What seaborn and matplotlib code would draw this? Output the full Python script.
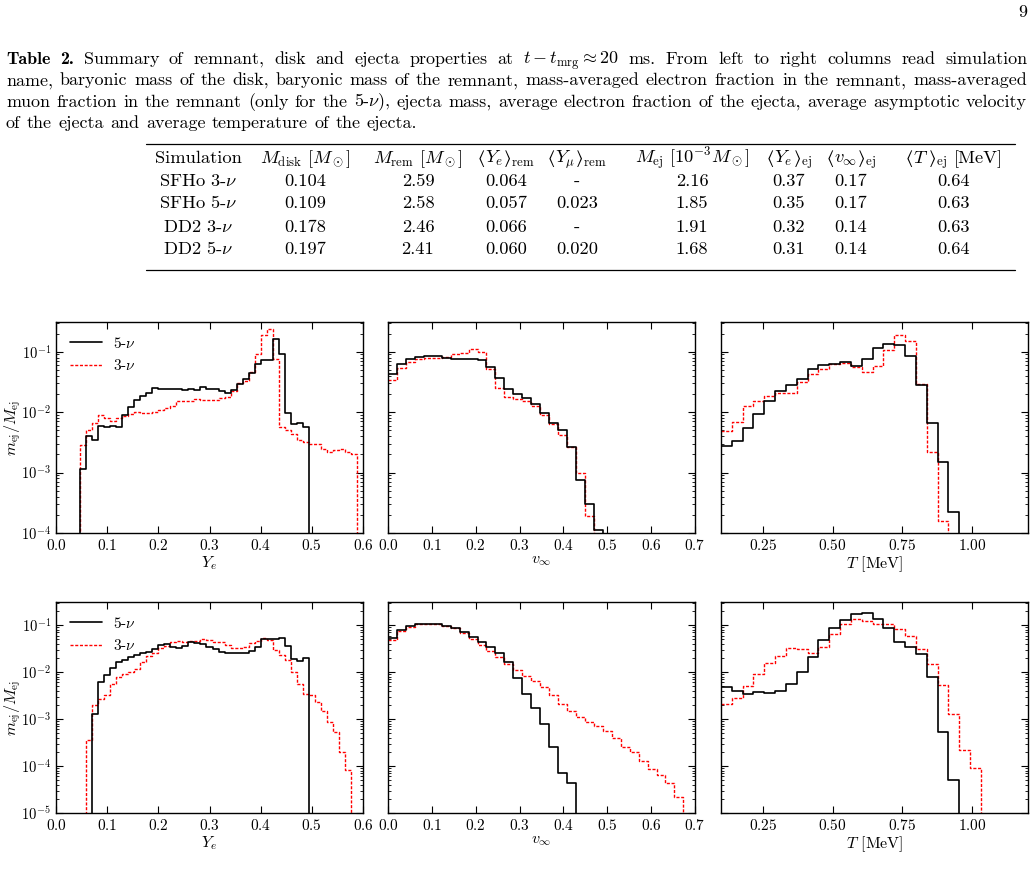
import numpy as np
import pandas as pd
import matplotlib
matplotlib.use("Agg")
import matplotlib.pyplot as plt
import seaborn as sns
from matplotlib.lines import Line2D
from matplotlib.ticker import LogLocator, NullFormatter, FixedLocator

# ---------------------------------------------------------------- data
ye_edges = np.linspace(0.0, 0.6, 52)          # 51 bins in Y_e
vinf_edges = np.arange(36) / 49.0             # 35 bins in v_inf
temp_edges = 0.1 + 0.0388 * np.arange(29)     # 28 bins in T [MeV]

sfho_ye_5nu = [0, 0, 0, 0, 1.15e-3, 4.0e-3, 3.5e-3, 6.0e-3, 5.6e-3, 5.9e-3,
               5.6e-3, 9.0e-3, 1.23e-2, 1.6e-2, 1.85e-2, 2.1e-2, 2.5e-2, 2.4e-2, 2.45e-2, 2.45e-2,
               2.4e-2, 2.3e-2, 2.4e-2, 2.35e-2, 2.6e-2, 2.4e-2, 2.45e-2, 2.2e-2, 2.1e-2, 2.35e-2,
               2.9e-2, 3.5e-2, 4.4e-2, 6.2e-2, 7.2e-2, 7.2e-2, 1.6e-1, 9.0e-2, 9.6e-3, 6.4e-3,
               6.5e-3, 5.6e-3, 0, 0, 0, 0, 0, 0, 0, 0, 0]
sfho_ye_3nu = [0, 0, 0, 0, 2.9e-3, 5.0e-3, 6.6e-3, 9.0e-3, 8.1e-3, 7.0e-3,
               7.9e-3, 8.5e-3, 9.2e-3, 1.0e-2, 9.8e-3, 9.6e-3, 1.0e-2, 1.1e-2, 1.15e-2, 1.28e-2,
               1.55e-2, 1.5e-2, 1.5e-2, 1.65e-2, 1.6e-2, 1.6e-2, 1.6e-2, 1.7e-2, 1.8e-2, 2.2e-2,
               3.0e-2, 3.3e-2, 4.7e-2, 9.0e-2, 1.9e-1, 2.4e-1, 7.5e-2, 5.6e-3, 5.1e-3, 4.3e-3,
               3.4e-3, 3.2e-3, 3.0e-3, 3.0e-3, 2.5e-3, 2.2e-3, 2.4e-3, 2.45e-3, 2.2e-3, 2.0e-3, 0]
dd2_ye_5nu = [0, 0, 0, 0, 0, 0, 1.3e-3, 6.0e-3, 8.6e-3, 1.2e-2,
              1.6e-2, 1.8e-2, 2.1e-2, 2.3e-2, 2.5e-2, 2.7e-2, 3.1e-2, 3.7e-2, 4.0e-2, 3.5e-2,
              3.2e-2, 3.6e-2, 4.3e-2, 4.1e-2, 3.9e-2, 3.5e-2, 3.1e-2, 2.7e-2, 2.6e-2, 2.6e-2,
              2.5e-2, 2.5e-2, 2.8e-2, 3.5e-2, 5.0e-2, 5.0e-2, 5.0e-2, 5.4e-2, 3.6e-2, 1.9e-2,
              1.75e-2, 2.0e-2, 0, 0, 0, 0, 0, 0, 0, 0, 0]
dd2_ye_3nu = [0, 0, 0, 0, 0, 3.5e-4, 2.0e-3, 2.7e-3, 3.2e-3, 5.5e-3,
              7.9e-3, 9.0e-3, 1.0e-2, 1.15e-2, 1.65e-2, 2.2e-2, 2.6e-2, 3.2e-2, 3.6e-2, 4.4e-2,
              4.6e-2, 4.4e-2, 4.5e-2, 4.5e-2, 5.0e-2, 4.8e-2, 4.4e-2, 4.3e-2, 3.8e-2, 3.2e-2,
              3.2e-2, 3.5e-2, 4.1e-2, 4.6e-2, 5.2e-2, 4.8e-2, 2.9e-2, 2.3e-2, 1.8e-2, 1.0e-2,
              5.7e-3, 3.4e-3, 3.3e-3, 2.3e-3, 1.5e-3, 8.7e-4, 5.3e-4, 2.0e-4, 8.3e-5, 0, 0]

sfho_v_5nu = [4.2e-2, 6.2e-2, 7.5e-2, 8.1e-2, 8.4e-2, 8.6e-2, 8.0e-2, 7.6e-2, 7.6e-2, 7.6e-2,
              7.4e-2, 5.6e-2, 3.7e-2, 2.45e-2, 2.0e-2, 1.7e-2, 1.38e-2, 9.5e-3, 6.7e-3, 5.1e-3,
              2.6e-3, 7.4e-4, 3.0e-4, 1.1e-4, 0, 0, 0, 0, 0, 0, 0, 0, 0, 0, 0]
sfho_v_3nu = [3.4e-2, 5.3e-2, 6.7e-2, 7.5e-2, 7.8e-2, 8.0e-2, 8.3e-2, 9.0e-2, 9.4e-2, 1.1e-1,
              1.0e-1, 5.1e-2, 2.5e-2, 1.8e-2, 1.65e-2, 1.55e-2, 1.24e-2, 9.0e-3, 6.4e-3, 4.2e-3,
              2.6e-3, 9.8e-4, 1.9e-4, 0, 0, 0, 0, 0, 0, 0, 0, 0, 0, 0, 0]
dd2_v_5nu = [5.2e-2, 8.0e-2, 9.4e-2, 1.03e-1, 1.05e-1, 1.05e-1, 9.7e-2, 8.8e-2, 7.2e-2, 5.6e-2,
             4.4e-2, 3.35e-2, 2.5e-2, 1.66e-2, 7.6e-3, 3.4e-3, 1.7e-3, 7.9e-4, 2.5e-4, 7.2e-5,
             4.4e-5, 0, 0, 0, 0, 0, 0, 0, 0, 0, 0, 0, 0, 0, 0]
dd2_v_3nu = [4.8e-2, 7.6e-2, 8.9e-2, 1.03e-1, 1.05e-1, 1.05e-1, 9.7e-2, 8.8e-2, 6.9e-2, 5.0e-2,
             3.75e-2, 2.84e-2, 2.05e-2, 1.48e-2, 1.08e-2, 8.4e-3, 6.4e-3, 4.7e-3, 3.2e-3, 2.1e-3,
             1.5e-3, 1.13e-3, 8.8e-4, 7.2e-4, 5.5e-4, 3.9e-4, 2.5e-4, 1.95e-4, 1.28e-4, 8.7e-5,
             6.5e-5, 4.3e-5, 2.2e-5, 0, 0]

sfho_t_5nu = [2.8e-3, 3.3e-3, 5.4e-3, 9.2e-3, 1.53e-2, 2.2e-2, 2.8e-2, 3.5e-2, 5.2e-2, 6.0e-2,
              6.3e-2, 6.7e-2, 5.9e-2, 7.5e-2, 1.13e-1, 1.35e-1, 1.3e-1, 8.4e-2, 2.8e-2, 6.7e-3,
              1.5e-3, 2.2e-4, 0, 0, 0, 0, 0, 0]
sfho_t_3nu = [4.8e-3, 6.8e-3, 1.24e-2, 1.5e-2, 1.88e-2, 2.1e-2, 2.1e-2, 3.2e-2, 4.2e-2, 5.2e-2,
              6.3e-2, 6.4e-2, 5.5e-2, 4.6e-2, 5.7e-2, 1.08e-1, 1.9e-1, 1.5e-1, 2.9e-2, 2.2e-3,
              1.55e-4, 0, 0, 0, 0, 0, 0, 0]
dd2_t_5nu = [4.7e-3, 4.0e-3, 3.4e-3, 3.7e-3, 3.6e-3, 4.0e-3, 5.5e-3, 1.0e-2, 2.1e-2, 4.7e-2,
             8.5e-2, 1.28e-1, 1.7e-1, 1.77e-1, 1.32e-1, 8.5e-2, 4.4e-2, 3.5e-2, 2.4e-2, 8.0e-3,
             5.4e-4, 5.0e-5, 0, 0, 0, 0, 0, 0]
dd2_t_3nu = [2.1e-3, 2.75e-3, 5.1e-3, 9.2e-3, 1.58e-2, 2.2e-2, 3.2e-2, 3.1e-2, 2.6e-2, 3.5e-2,
             6.4e-2, 1.08e-1, 1.34e-1, 1.2e-1, 1.08e-1, 1.03e-1, 8.1e-2, 5.9e-2, 3.1e-2, 1.5e-2,
             5.3e-3, 1.3e-3, 2.2e-4, 9.3e-5, 0, 0, 0, 0]

labels_nu = ["5-$\\nu$", "3-$\\nu$"]

# table (each header cell is a list of (text, math font, gap before in px) pieces)
tab_header = [
    [("Simulation", "cm", 0)],
    [(r"$M_\mathrm{disk}\ [M_\odot]$", "cm", 0)],
    [(r"$M_\mathrm{rem}\ [M_\odot]$", "cm", 0)],
    [(r"$\langle$", "stix", 0), (r"$Y_e$", "cm", 0), (r"$\rangle$", "stix", 0), (r"${}_\mathrm{rem}$", "cm", 0)],
    [(r"$\langle$", "stix", 0), (r"$Y_\mu$", "cm", 0), (r"$\rangle$", "stix", 0), (r"${}_\mathrm{rem}$", "cm", 0)],
    [(r"$M_\mathrm{ej}\ [10^{-3}M_\odot]$", "cm", 0)],
    [(r"$\langle$", "stix", 0), (r"$Y_e$", "cm", 0), (r"$\rangle$", "stix", 0), (r"${}_\mathrm{ej}$", "cm", 0)],
    [(r"$\langle$", "stix", 0), (r"$v_\infty$", "cm", 0), (r"$\rangle$", "stix", 0), (r"${}_\mathrm{ej}$", "cm", 0)],
    [(r"$\langle$", "stix", 0), (r"$T$", "cm", 0), (r"$\rangle$", "stix", 0), (r"${}_\mathrm{ej}$", "cm", 0),
     ("[MeV]", "cm", 6)],
]
tab_sim = ["SFHo 3-$\\nu$", "SFHo 5-$\\nu$", "DD2 3-$\\nu$", "DD2 5-$\\nu$"]
tab_mdisk = ["0.104", "0.109", "0.178", "0.197"]
tab_mrem = ["2.59", "2.58", "2.46", "2.41"]
tab_ye_rem = ["0.064", "0.057", "0.066", "0.060"]
tab_ymu_rem = ["-", "0.023", "-", "0.020"]
tab_mej = ["2.16", "1.85", "1.91", "1.68"]
tab_ye_ej = ["0.37", "0.35", "0.32", "0.31"]
tab_v_ej = ["0.17", "0.17", "0.14", "0.14"]
tab_t_ej = ["0.64", "0.63", "0.63", "0.64"]

caption_lines = [
    "Summary of remnant, disk and ejecta properties at $t-t_\\mathrm{mrg}\\approx20$ ms. From left to right columns read simulation",
    "name, baryonic mass of the disk, baryonic mass of the remnant, mass-averaged electron fraction in the remnant, mass-averaged",
    "muon fraction in the remnant (only for the 5-$\\nu$), ejecta mass, average electron fraction of the ejecta, average asymptotic velocity",
    "of the ejecta and average temperature of the ejecta.",
]

# ---------------------------------------------------------------- style
sns.set_theme(style="ticks")
plt.rcParams.update({
    "font.family": ["cmr10"],
    "mathtext.fontset": "cm",
    "axes.formatter.use_mathtext": True,
    "axes.unicode_minus": False,
    "text.color": "black",
    "axes.labelcolor": "black",
    "axes.edgecolor": "black",
    "axes.linewidth": 1.0,
    "xtick.color": "black",
    "ytick.color": "black",
    "xtick.direction": "in",
    "ytick.direction": "in",
    "xtick.top": True,
    "ytick.right": True,
    "xtick.major.size": 5,
    "ytick.major.size": 5,
    "ytick.minor.size": 2.5,
    "xtick.major.width": 0.8,
    "ytick.major.width": 0.8,
    "ytick.minor.width": 0.6,
    "xtick.labelsize": 11,
    "ytick.labelsize": 10.5,
    "axes.labelsize": 11.5,
})

W, H = 1035, 889
fig = plt.figure(figsize=(W / 100, H / 100), dpi=100)
fig.patch.set_facecolor("white")

bg = fig.add_axes([0, 0, 1, 1], zorder=-1)
bg.set_xlim(0, W)
bg.set_ylim(H, 0)
bg.axis("off")

renderer = fig.canvas.get_renderer()


def word_widths(tokens, size):
    texts = []
    for s, fam in tokens:
        t = bg.text(0, 0, s, fontsize=size, family=fam, ha="left", va="baseline")
        texts.append(t)
    widths = [t.get_window_extent(renderer).width for t in texts]
    return texts, widths


def place_words(tokens, y, x0, x1, size, justify=True):
    texts, widths = word_widths(tokens, size)
    if justify:
        gap = (x1 - x0 - sum(widths)) / (len(texts) - 1)
    else:
        gap = size * 100 / 72 * 0.36
    x = x0
    for t, w in zip(texts, widths):
        t.set_position((x, y))
        x += w + gap


def caption_tokens(i):
    toks = [(w, "cmr10") for w in caption_lines[i].split(" ")]
    if i == 0:
        toks = [("Table", "cmb10"), ("2.", "cmb10")] + toks
    return toks


# fit the caption size so that the widest line has natural inter-word spacing
X0, X1 = 6, 1027
probe = 12.0
fits = []
for i in range(3):
    tx, ws = word_widths(caption_tokens(i), probe)
    nat = sum(ws) + (len(ws) - 1) * probe * 100 / 72 * 0.333
    fits.append(probe * (X1 - X0) * 0.995 / nat)
    for t in tx:
        t.remove()
cap_size = min(fits)

base_y = [64, 85.3, 106.6, 128]
for i in range(4):
    place_words(caption_tokens(i), base_y[i], X0, X1, cap_size, justify=(i < 3))

bg.text(1027, 17, "9", fontsize=cap_size, ha="right", va="baseline")

# table
col_x = [198, 305, 418, 506, 577, 692, 789, 851, 954]
tab_size = 13.3
bg.plot([146, 1015], [143.5, 143.5], color="black", lw=0.9)
bg.plot([146, 1015], [270, 270], color="black", lw=0.9)


def place_pieces(cx, y, pieces, size):
    texts = []
    for s, mf, g in pieces:
        t = bg.text(0, y, s, fontsize=size, ha="left", va="baseline", math_fontfamily=mf)
        texts.append(t)
    widths = [t.get_window_extent(renderer).width for t in texts]
    gaps = [p[2] for p in pieces]
    x = cx - (sum(widths) + sum(gaps)) / 2
    for t, w, g in zip(texts, widths, gaps):
        x += g
        t.set_x(x)
        x += w


for cx, h in zip(col_x, tab_header):
    place_pieces(cx, 163, h, tab_size)
cols = [tab_sim, tab_mdisk, tab_mrem, tab_ye_rem, tab_ymu_rem, tab_mej, tab_ye_ej, tab_v_ej, tab_t_ej]
row_y = [185.5, 208.5, 231.5, 254.5]
for r in range(4):
    for cx, col in zip(col_x, cols):
        bg.text(cx, row_y[r], col[r], fontsize=tab_size, ha="center", va="baseline")

# ---------------------------------------------------------------- panels
lefts = [56, 388, 721]
pw = 307
tops = [322, 602]
ph = 211

panels = [
    [(ye_edges, sfho_ye_5nu, sfho_ye_3nu, (0, 0.6), r"$Y_e$"),
     (vinf_edges, sfho_v_5nu, sfho_v_3nu, (0, 0.7), r"$v_\infty$"),
     (temp_edges, sfho_t_5nu, sfho_t_3nu, (0.1, 1.2), r"$T$ [MeV]")],
    [(ye_edges, dd2_ye_5nu, dd2_ye_3nu, (0, 0.6), r"$Y_e$"),
     (vinf_edges, dd2_v_5nu, dd2_v_3nu, (0, 0.7), r"$v_\infty$"),
     (temp_edges, dd2_t_5nu, dd2_t_3nu, (0.1, 1.2), r"$T$ [MeV]")],
]
ylims = [(1e-4, 0.31), (1e-5, 0.31)]
red_ls = (0, (2.2, 1.2))


def draw_hist(ax, edges, values, color, ls, lw):
    centers = 0.5 * (edges[:-1] + edges[1:])
    df = pd.DataFrame({"x": centers, "w": values})
    sns.histplot(data=df, x="x", weights="w", bins=[float(e) for e in edges],
                 element="step", fill=False, stat="count", color=color,
                 linestyle=ls, linewidth=lw, ax=ax)


for r in range(2):
    for c in range(3):
        edges, v5, v3, xl, xlab = panels[r][c]
        ax = fig.add_axes([lefts[c] / W, 1 - (tops[r] + ph) / H, pw / W, ph / H])
        draw_hist(ax, edges, v3, "red", red_ls, 1.0)
        draw_hist(ax, edges, v5, "black", "-", 1.2)
        ax.set_yscale("log", nonpositive="clip")
        ax.set_ylim(*ylims[r])
        ax.set_xlim(*xl)
        ax.yaxis.set_major_locator(LogLocator(base=10, numticks=10))
        ax.yaxis.set_minor_locator(LogLocator(base=10, subs=np.arange(2, 10), numticks=20))
        ax.yaxis.set_minor_formatter(NullFormatter())
        if c == 2:
            ax.xaxis.set_major_locator(FixedLocator([0.25, 0.5, 0.75, 1.0]))
        else:
            ax.xaxis.set_major_locator(FixedLocator(np.round(np.arange(0, xl[1] + 0.01, 0.1), 1)))
        ax.set_xlabel(xlab, labelpad=1)
        if c == 0:
            ax.set_ylabel(r"$m_\mathrm{ej}/M_\mathrm{ej}$")
            ax.yaxis.set_label_coords(-0.108, 0.5)
            handles = [Line2D([], [], color="black", lw=1.2, ls="-"),
                       Line2D([], [], color="red", lw=1.0, ls=red_ls)]
            ax.legend(handles, labels_nu, loc="upper left", frameon=False, fontsize=11,
                      handlelength=2.1, handletextpad=0.7)
        else:
            ax.set_ylabel("")
            ax.tick_params(axis="y", labelleft=False)
        for sp in ax.spines.values():
            sp.set_color("black")
            sp.set_linewidth(1.0)

fig.savefig("out.png", dpi=100, facecolor="white")
